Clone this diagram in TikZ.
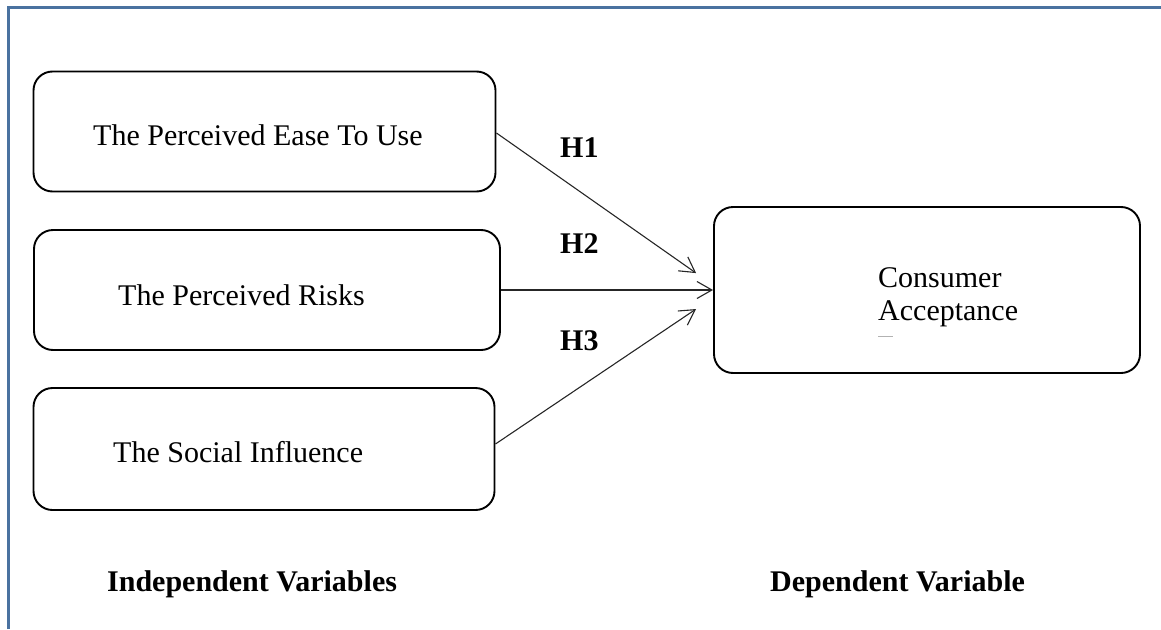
\documentclass[tikz,border=0pt]{standalone}
\usepackage{fontspec}
\setmainfont{Liberation Serif}
\usetikzlibrary{arrows.meta}
\definecolor{framebl}{HTML}{4A72A0}
\begin{document}
\begin{tikzpicture}[x=1pt,y=-1pt,
  varbox/.style={draw=black, line width=1.9pt, rounded corners=19pt, inner sep=0pt},
  lbl/.style={anchor=base west, inner sep=0pt, font=\fontsize{30}{33}\selectfont},
  hyp/.style={anchor=base west, inner sep=0pt, font=\fontsize{30}{33}\selectfont\bfseries},
  conn/.style={draw=black!85, line width=1.1pt, -{Straight Barb[length=15pt,width=17pt,line width=1.1pt]}}]
\useasboundingbox (0,0) rectangle (1161,629);
% page frame (top and left edges)
\draw[framebl, line width=2.6pt] (8.5,629) -- (8.5,7.5) -- (1161,7.5);

% independent variable boxes
\node[varbox, minimum width=462pt, minimum height=120pt] (ease) at (264.5,131.5) {};
\node[varbox, minimum width=466pt, minimum height=120pt] (risk) at (267,290) {};
\node[varbox, minimum width=461pt, minimum height=122pt] (soc)  at (264,449) {};
% dependent variable box
\node[varbox, minimum width=426pt, minimum height=166pt] (acc) at (927,290) {};

% box texts
\node[lbl] (easet) at (93,145) {The Perceived Ease To Use};
\node[lbl] (riskt) at (118,305) {The Perceived Risks};
\node[lbl] (soct)  at (113,462) {The Social Influence};
\node[lbl] (acct1) at (878,287) {Consumer};
\node[lbl] (acct2) at (878,320) {Acceptance};
\draw[black!30, line width=0.9pt] (878,336) -- (893,336);

% hypotheses
\draw[conn, shorten >=20.7pt] ([yshift=-1.5pt]ease.east) -- ([yshift=5pt]acc.west);
\draw[conn] (risk.east) -- (acc.west);
\draw[conn, shorten >=20.5pt] ([yshift=5pt]soc.east) -- ([yshift=-7.6pt]acc.west);
\node[hyp] (h1) at (560,157) {H1};
\node[hyp] (h2) at (560,253) {H2};
\node[hyp] (h3) at (560,350) {H3};

% column captions
\node[hyp] (indep) at (107,591) {Independent Variables};
\node[hyp] (dep)   at (770,591) {Dependent Variable};
\end{tikzpicture}
\end{document}
